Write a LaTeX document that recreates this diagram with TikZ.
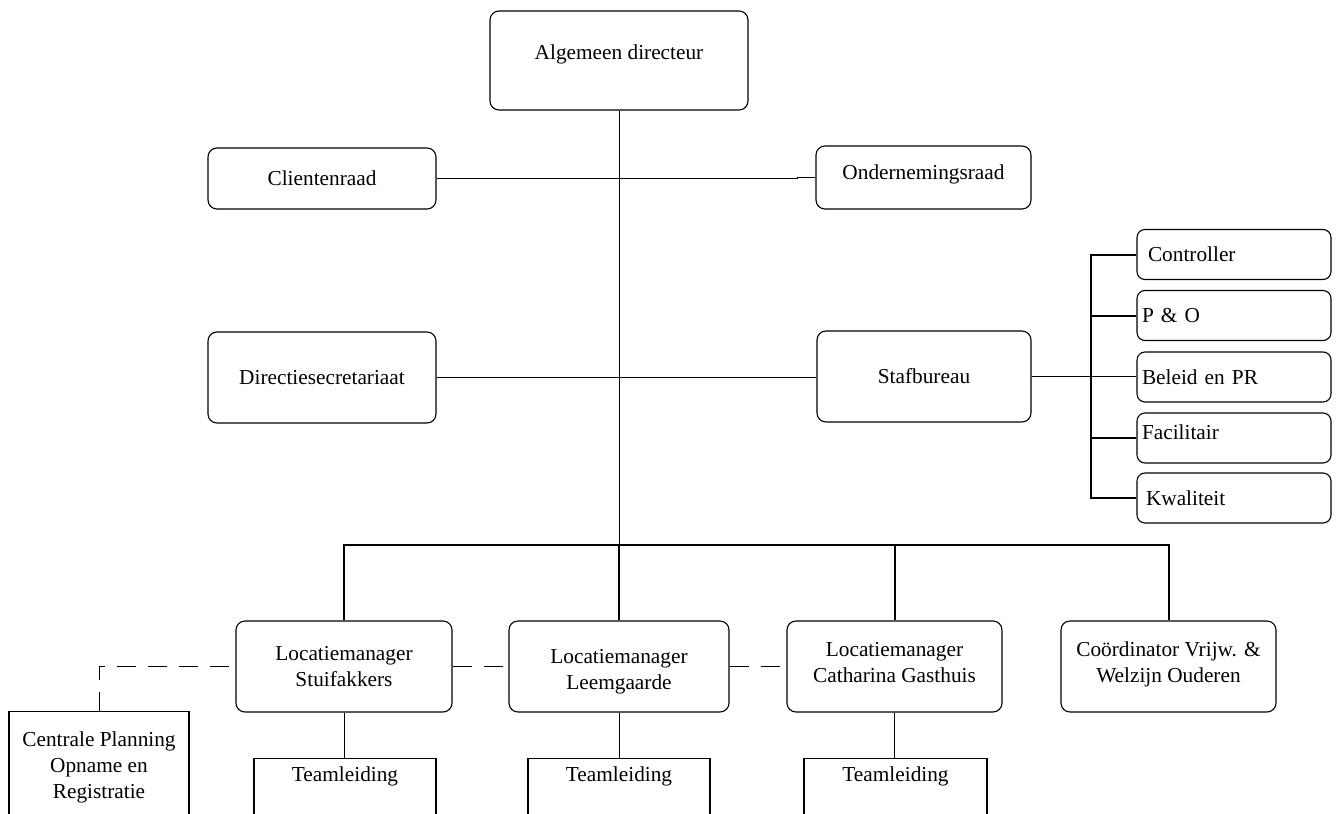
\documentclass[tikz,border=0pt]{standalone}
\usepackage{fontspec}
\setmainfont{Liberation Serif}
\begin{document}
\begin{tikzpicture}[x=1pt,y=-1pt,
  txt/.style={font=\fontsize{21.3}{26}\selectfont},
  box/.style={txt, draw, rounded corners=9pt, line width=1.1pt, align=center, inner sep=0pt},
  sbox/.style={txt, draw, line width=1.1pt, align=center, inner sep=0pt},
  small/.style={txt, draw, rounded corners=8pt, line width=1.1pt, align=left, minimum height=50pt, inner ysep=0pt},
  conn/.style={line width=1pt},
  bus/.style={line width=2pt},
  dline/.style={line width=1pt, dash pattern=on 19pt off 12pt}]
\useasboundingbox (0,0) rectangle (1339,814);
\clip (0,0) rectangle (1339,814);

% top level
\node[box, minimum width=258pt, text height=48pt, text depth=51pt] (dir) at (619,60.5) {Algemeen directeur};
\node[box, minimum width=228pt, minimum height=61pt] (cr) at (322,178.5) {Clientenraad};
\node[box, minimum width=215pt, minimum height=63pt, text depth=11pt] (or) at (923.5,177.5) {Ondernemingsraad};
\node[box, minimum width=228pt, minimum height=91pt] (ds) at (322,377.5) {Directiesecretariaat};
\node[box, minimum width=214pt, minimum height=91pt] (sb) at (924,376.5) {Stafbureau};

% staff boxes
\node[small, inner xsep=11pt, text width=172pt] (c1) at (1234,254.5) {Controller};
\node[small, inner xsep=5pt, text width=184pt] (c2) at (1234,315.5) {P \& O};
\node[small, inner xsep=5pt, text width=184pt] (c3) at (1234,377) {Beleid en PR};
\node[small, inner xsep=5pt, text width=184pt, text height=26pt, text depth=24pt] (c4) at (1234,438) {Facilitair};
\node[small, inner xsep=9pt, text width=176pt] (c5) at (1234,498) {Kwaliteit};

% location managers
\node[box, minimum width=216pt, minimum height=91pt] (l1) at (344,666.5) {Locatiemanager\\Stuifakkers};
\node[box, minimum width=220pt, minimum height=91pt, text height=50pt] (l2) at (619,666.5) {Locatiemanager\\Leemgaarde};
\node[box, minimum width=215pt, minimum height=91pt, text depth=8pt] (l3) at (894.5,666.5) {Locatiemanager\\Catharina Gasthuis};
\node[box, minimum width=215pt, minimum height=91pt, text depth=8pt] (co) at (1168.5,666.5) {Coördinator Vrijw. \&\\Welzijn Ouderen};

% team boxes
\node[sbox, anchor=north, minimum width=182pt, text height=23pt, text depth=80pt] (t1) at (345,758) {Teamleiding};
\node[sbox, anchor=north, minimum width=182pt, text height=23pt, text depth=80pt] (t2) at (619,758) {Teamleiding};
\node[sbox, anchor=north, minimum width=183pt, text height=23pt, text depth=80pt] (t3) at (895.5,758) {Teamleiding};
\node[sbox, anchor=north, minimum width=180pt, minimum height=112pt] (cp) at (99,711) {Centrale Planning\\Opname en\\Registratie};

% connectors
\coordinate (bm) at (619,545);
\coordinate (oj) at (797,178.5);
\draw[conn] (dir.south) -- (bm);
\draw[conn] (cr.east) -- (oj) |- (or.west);
\draw[conn] (ds.east) -- (ds.east -| sb.west);
\draw[conn] (sb.east) -- (sb.east -| c3.west);
\draw[bus] (c1.west) -- ++(-45,0) |- (c5.west);
\draw[bus] (c2.west) -- ++(-45,0);
\draw[bus] (c4.west) -- ++(-45,0);
\draw[bus] (l1.north) |- (bm) -| (co.north);
\draw[bus] (bm) -- (l2.north);
\draw[bus] (bm -| l3.north) -- (l3.north);
\draw[conn] (l1.south) -- (l1.south |- t1.north);
\draw[conn] (l2.south) -- (t2.north);
\draw[conn] (l3.south) -- (l3.south |- t3.north);
\draw[dline] (cp.north) |- (l1.west);
\draw[dline] (l1.east) -- (l2.west);
\draw[dline] (l2.east) -- (l3.west);
\end{tikzpicture}
\end{document}
